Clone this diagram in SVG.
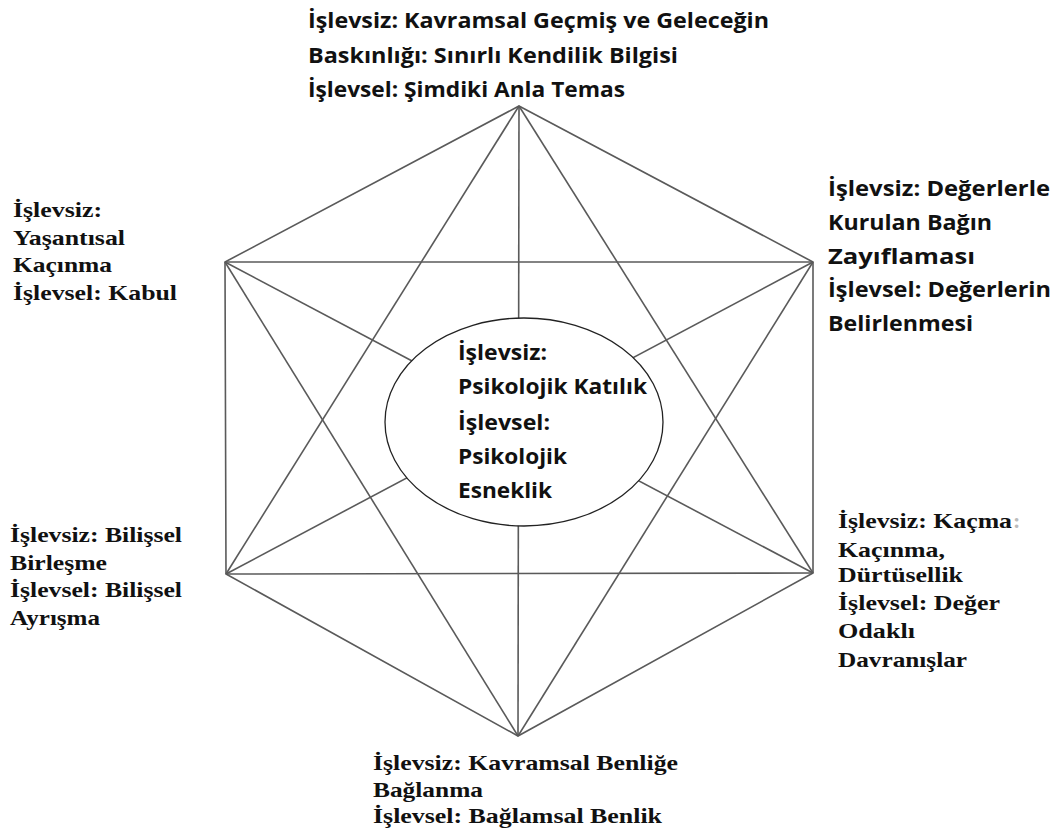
<svg xmlns="http://www.w3.org/2000/svg" width="1062" height="835" viewBox="0 0 1062 835">
<style>
.ln{stroke:#5a5a5a;stroke-width:1.6;fill:none}
.sans{font-family:"Open Sans","Liberation Sans",sans-serif;font-weight:bold;font-size:22px;fill:#111}
.serif{font-family:"Liberation Serif","DejaVu Serif",serif;font-weight:bold;font-size:22px;fill:#111}
</style>
<rect width="1062" height="835" fill="#fff"/>
<g id="connectors">
<polygon class="ln" points="519,106 813,262 813,573 518,736 226,574 225,262"/>
<line class="ln" x1="225" y1="262" x2="813" y2="262"/>
<line class="ln" x1="226" y1="574" x2="813" y2="573"/>
<line class="ln" x1="519" y1="106" x2="226" y2="574"/>
<line class="ln" x1="519" y1="106" x2="813" y2="573"/>
<line class="ln" x1="225" y1="262" x2="518" y2="736"/>
<line class="ln" x1="813" y1="262" x2="518" y2="736"/>
<line class="ln" x1="519" y1="106" x2="518" y2="736"/>
<line class="ln" x1="225" y1="262" x2="813" y2="573"/>
<line class="ln" x1="813" y1="262" x2="226" y2="574"/>
</g>
<g id="center">
<ellipse cx="524" cy="422" rx="139" ry="104" fill="#fff" stroke="#222" stroke-width="1.3"/>
<text class="sans" x="458" y="360" textLength="89" lengthAdjust="spacingAndGlyphs">İşlevsiz:</text>
<text class="sans" x="458" y="394" textLength="189" lengthAdjust="spacingAndGlyphs">Psikolojik Katılık</text>
<text class="sans" x="458" y="430" textLength="92" lengthAdjust="spacingAndGlyphs">İşlevsel:</text>
<text class="sans" x="458" y="464" textLength="109" lengthAdjust="spacingAndGlyphs">Psikolojik</text>
<text class="sans" x="458" y="498" textLength="94" lengthAdjust="spacingAndGlyphs">Esneklik</text>
</g>
<g id="node-top">
<text class="sans" x="308" y="28" textLength="461" lengthAdjust="spacingAndGlyphs">İşlevsiz: Kavramsal Geçmiş ve Geleceğin</text>
<text class="sans" x="308" y="63" textLength="370" lengthAdjust="spacingAndGlyphs">Baskınlığı: Sınırlı Kendilik  Bilgisi</text>
<text class="sans" x="308" y="97" textLength="317" lengthAdjust="spacingAndGlyphs">İşlevsel: Şimdiki Anla Temas</text>
</g>
<g id="node-upper-right">
<text class="sans" x="828" y="196" textLength="222" lengthAdjust="spacingAndGlyphs">İşlevsiz: Değerlerle</text>
<text class="sans" x="828" y="230" textLength="164" lengthAdjust="spacingAndGlyphs">Kurulan Bağın</text>
<text class="sans" x="828" y="264" textLength="147" lengthAdjust="spacingAndGlyphs">Zayıflaması</text>
<text class="sans" x="828" y="297" textLength="223" lengthAdjust="spacingAndGlyphs">İşlevsel: Değerlerin</text>
<text class="sans" x="828" y="331" textLength="145" lengthAdjust="spacingAndGlyphs">Belirlenmesi</text>
</g>
<g id="node-upper-left">
<text class="serif" x="13" y="217" textLength="89" lengthAdjust="spacingAndGlyphs">İşlevsiz:</text>
<text class="serif" x="13" y="245" textLength="112" lengthAdjust="spacingAndGlyphs">Yaşantısal</text>
<text class="serif" x="13" y="272" textLength="99" lengthAdjust="spacingAndGlyphs">Kaçınma</text>
<text class="serif" x="13" y="300" textLength="164" lengthAdjust="spacingAndGlyphs">İşlevsel: Kabul</text>
</g>
<g id="node-lower-left">
<text class="serif" x="10" y="542" textLength="172" lengthAdjust="spacingAndGlyphs">İşlevsiz: Bilişsel</text>
<text class="serif" x="10" y="570" textLength="97" lengthAdjust="spacingAndGlyphs">Birleşme</text>
<text class="serif" x="10" y="597" textLength="172" lengthAdjust="spacingAndGlyphs">İşlevsel: Bilişsel</text>
<text class="serif" x="10" y="625" textLength="90" lengthAdjust="spacingAndGlyphs">Ayrışma</text>
</g>
<g id="node-lower-right">
<text class="serif" x="838" y="528" textLength="174" lengthAdjust="spacingAndGlyphs">İşlevsiz: Kaçma</text>
<text class="serif" x="1013" y="528" style="fill:#bbb">:</text>
<text class="serif" x="838" y="557" textLength="107" lengthAdjust="spacingAndGlyphs">Kaçınma,</text>
<text class="serif" x="838" y="582" textLength="125" lengthAdjust="spacingAndGlyphs">Dürtüsellik</text>
<text class="serif" x="838" y="610" textLength="162" lengthAdjust="spacingAndGlyphs">İşlevsel: Değer</text>
<text class="serif" x="838" y="638" textLength="77" lengthAdjust="spacingAndGlyphs">Odaklı</text>
<text class="serif" x="838" y="667" textLength="129" lengthAdjust="spacingAndGlyphs">Davranışlar</text>
</g>
<g id="node-bottom">
<text class="serif" x="373" y="770" textLength="305" lengthAdjust="spacingAndGlyphs">İşlevsiz: Kavramsal Benliğe</text>
<text class="serif" x="373" y="797" textLength="110" lengthAdjust="spacingAndGlyphs">Bağlanma</text>
<text class="serif" x="373" y="823" textLength="289" lengthAdjust="spacingAndGlyphs">İşlevsel: Bağlamsal Benlik</text>
</g>
</svg>
